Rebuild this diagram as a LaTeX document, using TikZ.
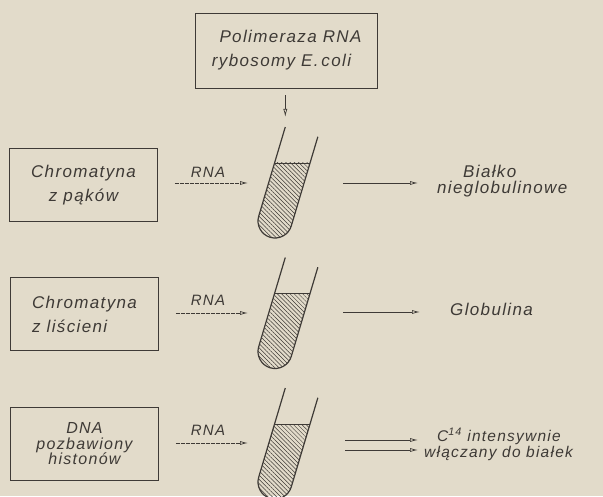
\documentclass[tikz,border=0pt]{standalone}
\usepackage{fontspec}
\setmainfont{Liberation Sans}
\newfontfamily\lettering[LetterSpace=8]{Liberation Sans}
\usetikzlibrary{arrows.meta,patterns.meta}
\definecolor{paper}{RGB}{226,219,202}
\definecolor{ink}{RGB}{62,58,54}
\newcommand\drawtube[2]{%
  \begin{scope}[shift={(275,#2)}]
    \coordinate (#1) at (0,0);
    \coordinate (#1top) at (10.3,94);
    \begin{scope}
      \clip[rotate=-16.6] (-17,93) -- (-17,0) arc[start angle=180,end angle=360,radius=17] -- (17,93) -- cycle;
      \fill[hatch] (-40,-40) rectangle (50,58);
      \draw[draw=ink,line width=0.8pt] (-40,58) -- (50,58);
    \end{scope}
    \draw[tubeline,rotate=-16.6] (-17,93) -- (-17,0) arc[start angle=180,end angle=360,radius=17] -- (17,93);
  \end{scope}}
\begin{document}
\begin{tikzpicture}[x=1pt,y=1pt,
  box/.style={draw=ink,line width=0.9pt,minimum width=148pt,minimum height=73pt,inner sep=0pt,text=ink,font=\lettering\itshape\fontsize{17}{24}\selectfont,align=center},
  lbl/.style={text=ink,inner sep=0pt,font=\lettering\itshape\fontsize{17}{15}\selectfont},
  rnalbl/.style={text=ink,inner sep=0pt,font=\lettering\itshape\fontsize{15}{15}\selectfont},
  arr/.style={draw=ink,line width=0.7pt,-{Latex[open,length=8pt,width=4pt]}},
  rna/.style={arr,dash pattern=on 4pt off 1pt},
  tubeline/.style={draw=ink,line width=1.2pt},
  hatch/.style={pattern={Lines[angle=-45,distance=3pt,line width=0.5pt]},pattern color=ink}
]
\fill[paper] (0,0) rectangle (603,496);
\useasboundingbox (0,0) rectangle (603,496);

% top box
\node[box,minimum width=182pt,minimum height=75pt] (poly) at (286,445.5) {\hspace*{9pt}Polimeraza RNA\\rybosomy E.\,coli\hspace*{9pt}};

% left boxes
\node[box] (b1) at (83.5,311) {Chromatyna\\z pąków};
\node[box,align=left] (b2) at (84.5,182) {Chromatyna\\z liścieni};
\node[box,font=\lettering\itshape\fontsize{16}{15.5}\selectfont] (b3) at (84.5,52) {DNA\\pozbawiony\\histonów};

% tubes
\drawtube{t1}{275}
\drawtube{t2}{144.5}
\drawtube{t3}{14}

% top arrow
\draw[arr] (poly.south -| t1top) ++(0,-7) coordinate (ps) -- (t1top |- 0,379) coordinate (pe);

% RNA arrows
\coordinate (r1) at (248,313);
\coordinate (r2) at (248,183);
\coordinate (r3) at (248,53);
\draw[rna,shorten <=17pt] (b1.east |- r1) -- (r1);
\draw[rna,shorten <=17pt] (b2.east |- r2) -- (r2);
\draw[rna,shorten <=17pt] (b3.east |- r3) -- (r3);
\node[rnalbl] (rl1) at (208,324) {RNA};
\node[rnalbl] (rl2) at (208,196) {RNA};
\node[rnalbl] (rl3) at (208,66) {RNA};

% output arrows
\coordinate (o1s) at (343,313); \coordinate (o1e) at (418,313);
\coordinate (o2s) at (343,184); \coordinate (o2e) at (420,184);
\coordinate (o3s) at (345,56);  \coordinate (o3e) at (418,56);
\coordinate (o4s) at (345,46);  \coordinate (o4e) at (418,46);
\draw[arr] (o1s) -- (o1e);
\draw[arr] (o2s) -- (o2e);
\draw[arr] (o3s) -- (o3e);
\draw[arr] (o4s) -- (o4e);

% output texts
\node[lbl,anchor=base west] (p1a) at (463,318) {Białko};
\node[lbl,anchor=base west] (p1b) at (437,302) {nieglobulinowe};
\node[lbl,anchor=base west] (p2) at (450,180) {Globulina};
\node[lbl,anchor=base west,font=\lettering\itshape\fontsize{15.5}{15}\selectfont] (p3a) at (437,55) {C\textsuperscript{14} intensywnie};
\node[lbl,anchor=base west,font=\lettering\itshape\fontsize{15.5}{15}\selectfont] (p3b) at (424,39) {włączany do białek};
\end{tikzpicture}
\end{document}
